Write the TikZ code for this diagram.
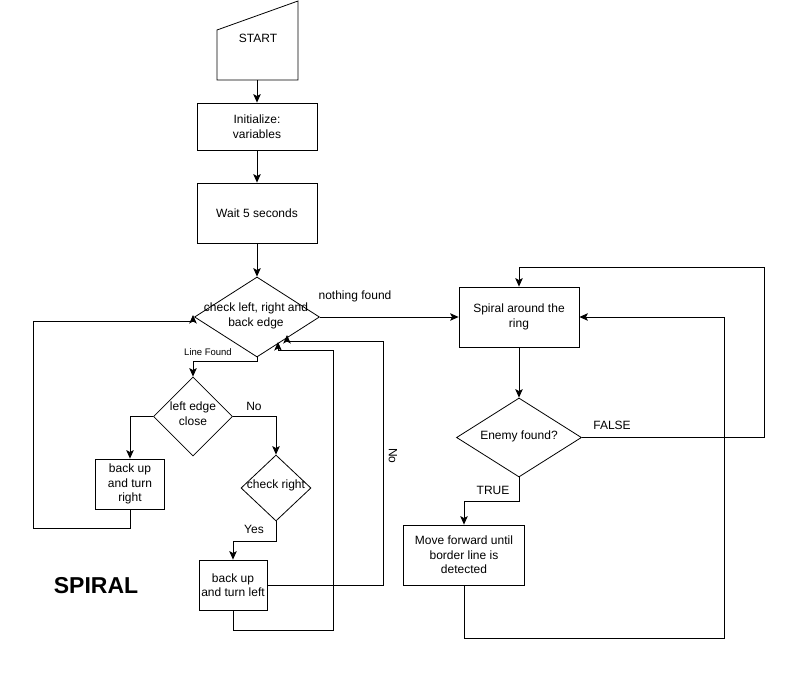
\documentclass[tikz,border=0pt]{standalone}
\usepackage{fontspec}
\setmainfont{Liberation Sans}
\usetikzlibrary{shapes.geometric,arrows.meta}
\begin{document}
\begin{tikzpicture}[x=1pt,y=-1pt,
  every node/.style={font=\fontsize{12}{14.5}\selectfont},
  box/.style={draw,line width=0.8pt,align=center,inner sep=1pt},
  dia/.style={draw,diamond,line width=0.8pt,inner sep=0pt},
  txt/.style={align=center,inner sep=0pt},
  lbl/.style={inner sep=0pt},
  conn/.style={line width=0.8pt},
  arr/.style={conn,-{Stealth[length=8.5pt,width=7.5pt,inset=2pt]}}]
\useasboundingbox[fill=white] (0,0) rectangle (793,696);

% START (manual input shape)
\draw[line width=0.8pt] (217,30) -- (298,1) -- (298,80) -- (217,80) -- cycle;
\node[lbl] (start) at (258,38) {START};
\coordinate (startb) at (257,80);

\node[box,minimum width=120pt,minimum height=47pt] (init) at (257,126.5) {Initialize:\\variables};
\node[box,minimum width=120pt,minimum height=60pt] (wait) at (257,213) {Wait 5 seconds};

\node[dia,minimum width=125pt,minimum height=80pt] (d1) at (257,317) {};
\node[txt] (d1t) at (256,316) {check left, right and\\back edge};

\node[box,minimum width=120pt,minimum height=60pt] (spiral) at (519,317) {Spiral around the\\ring};
\node[dia,minimum width=125pt,minimum height=79pt] (enemy) at (519,437.5) {};
\node[txt] (enemyt) at (519,436) {Enemy found?};
\node[box,minimum width=121pt,minimum height=60pt] (move) at (464,555) {Move forward until\\border line is\\detected};

\node[dia,minimum width=79pt,minimum height=79pt] (d2) at (193,416.5) {};
\node[txt] (d2t) at (193,413.5) {left edge\\close};
\node[box,minimum width=69pt,minimum height=50pt] (br) at (130,484) {back up\\and turn\\right};

\node[dia,minimum width=70pt,minimum height=66pt] (d3) at (276,488) {};
\node[txt] (d3t) at (276,485.5) {check right};
\node[box,minimum width=68pt,minimum height=50pt] (bl) at (233,585) {back up\\and turn left};

\node[lbl,font=\fontsize{23}{27}\selectfont\bfseries] (title) at (96,586) {SPIRAL};

% labels
\node[lbl] (lnf) at (355,296) {nothing found};
\node[lbl,font=\fontsize{9.5}{11}\selectfont] (llf) at (208,352) {Line Found};
\node[lbl] (lno1) at (254,406) {No};
\node[lbl] (lyes) at (254,529) {Yes};
\node[lbl,rotate=-90] (lno2) at (393,456) {No};
\node[lbl] (lfalse) at (612,425) {FALSE};
\node[lbl] (ltrue) at (493,490) {TRUE};

% coordinates for bends
\coordinate (c1) at (764,267);
\coordinate (c2) at (519,501);
\coordinate (c3) at (724,638);
\coordinate (c4a) at (257,361);
\coordinate (c4) at (33,528);
\coordinate (c5) at (193,321);
\coordinate (c5b) at (193,315);
\coordinate (c6) at (383,341);
\coordinate (c7) at (287,341);
\coordinate (c7b) at (287,335);
\coordinate (c8) at (276,541);
\coordinate (c9) at (333,630);
\coordinate (c10) at (278,350);
\coordinate (c10b) at (278,342);

% connectors
\draw[arr] (startb) -- (init.north);
\draw[arr] (init.south) -- (wait.north);
\draw[arr] (wait.south) -- (d1.north);
\draw[arr] (d1.east) -- (spiral.west);
\draw[arr] (spiral.south) -- (enemy.north);
\draw[arr] (enemy.east) -| (c1) -| (spiral.north);
\draw[arr] (enemy.south) -- (c2) -| (move.north);
\draw[arr] (move.south) |- (c3) |- (spiral.east);

\draw[arr] (d1.south) -- (c4a) -| (d2.north);
\draw[arr] (d2.west) -| (br.north);
\draw[arr] (br.south) |- (c4) |- (c5) -- (c5b);
\draw[arr] (d2.east) -| (d3.north);
\draw[arr] (d3.south) -- (c8) -| (bl.north);
\draw[arr] (bl.east) -| (c6) -- (c7) -- (c7b);
\draw[arr] (bl.south) |- (c9) |- (c10) -- (c10b);
\end{tikzpicture}
\end{document}
